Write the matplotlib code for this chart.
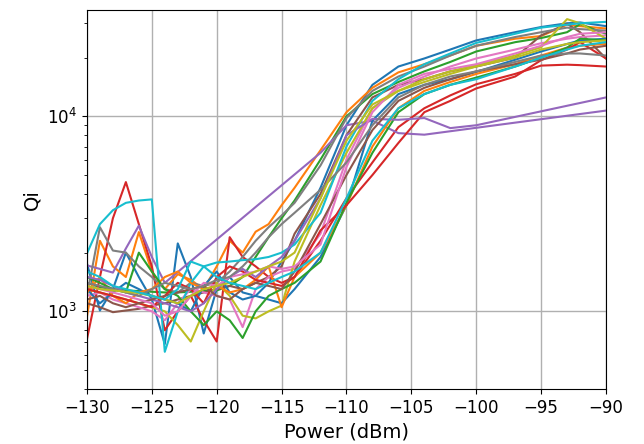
import numpy as np
import matplotlib
matplotlib.use("Agg")
import matplotlib.pyplot as plt

nan = np.nan

# power sweep (dBm); dense at low power, coarser once Qi saturates
power = [-130, -129, -128, -127, -126, -125, -124, -123, -122, -121, -120, -119,
         -118, -117, -116, -115, -114, -112, -110, -108, -106, -104, -102, -100,
         -97, -95, -93, -92, -90]

# Qi per resonator, nan = not measured at that power
qi_r01 = [1760, 1010, 1300, 2000, 1500, 1150, 680, 2230, 1500, 770, 1300, 1500, 1250, 1200, 1400, 1800, 2300,
          4300, 9000, 14500, 18000, 19800, 22000, 24500, 27000, 28700, 30000, 30300, 29000]
qi_r02 = [940, 2300, 1700, 1500, 2550, 1600, 1300, 1550, 1450, 1300, 1700, 2300, 2000, 2560, 2800, 3500, 4300,
          6700, 10500, 14000, 16800, 18500, 20500, 23000, 25000, 25800, 29500, 29000, 28200]
qi_r03 = [1400, 1330, 1300, 1280, 1270, 1260, 1250, 1250, 1260, 1270, 1280, 1350, 1500, 1900, 2400, 3000, 3700,
          6000, 10000, 13000, 15000, 17000, 19000, 21500, 24000, 25200, 27000, 29700, 26500]
qi_r04 = [720, 1500, 3000, 4600, 2800, 1700, 800, 1000, 1200, 900, 700, 2400, 1900, 1700, 1500, 1400, 1500,
          2300, 3800, 5800, 8800, 11000, 12800, 14600, 16500, 18200, 18400, 18300, 18000]
qi_r05 = [1720, 1650, 1580, 2100, 2750, 1900, 1400, nan, nan, nan, nan, nan, nan, nan, nan, nan, nan,
          6500, 9000, 9500, 8200, 8050, nan, nan, nan, nan, nan, nan, 10700]
qi_r06 = [1100, 1050, 990, 1010, 1030, 1070, 1100, 1150, 1200, 1250, 1300, 1350, 1300, 1400, 1500, 1700, 2500,
          4000, 8000, 12500, 14500, 15500, 17000, 18000, 20000, 26000, 29800, 27000, 19800]
qi_r07 = [1200, 1250, 1150, 1100, 1050, 1000, 900, 1100, 1300, 1250, 1200, 1150, 830, 1300, 1500, 1600, 1650,
          2500, 6000, 11000, 14000, 16000, 18000, 19800, 22000, 23700, 25000, 25500, 26000]
qi_r08 = [1200, 2700, 2050, 2000, 1700, 1500, 1300, 1250, 1400, 1350, 1400, 1600, 1900, 2300, 2700, 3100, 3600,
          5600, 9800, 13500, 16000, 18000, 20500, 23000, 25500, 27000, 28500, 28000, 27500]
qi_r09 = [1300, 1250, 1200, 1150, 1100, 1050, 1000, 850, 700, 1000, 1400, 1200, 950, 920, 1000, 1070, 1800,
          3500, 6500, 11000, 13500, 15500, 17000, 18300, 20500, 22600, 31500, 30000, 25000]
qi_r10 = [1980, 2800, 3300, 3600, 3700, 3750, 620, 1000, 1400, 1700, 1780, 1800, 1830, 1850, 1900, 2000, 2200,
          3200, 7000, 12000, 15500, 18500, 21000, 23800, 26500, 28500, 29500, 30000, 30500]
qi_r11 = [1300, 1100, 1250, 1400, 1300, 1200, 1150, 1100, 1000, 1350, 1600, 1250, 1150, 1200, 1150, 1100, 1300,
          1900, 3500, 9500, 13000, 14500, 15500, 16900, 19500, 21500, 23500, 24500, 25000]
qi_r12 = [1250, 1500, 1200, 1100, 1250, 1300, 1500, 1600, 1400, 1300, 1350, 1250, 1300, 1450, 1700, 1050, 1500,
          2000, 3500, 7000, 11000, 13500, 15000, 16500, 18500, 20500, 22500, 23000, 23500]
qi_r13 = [1500, 1400, 1300, 1250, 2000, 1600, 1300, 1200, 1000, 850, 1000, 900, 730, 1000, 1200, 1300, 1400,
          1800, 3600, 6500, 10500, 13000, 14500, 15800, 18000, 20000, 22500, 25000, 24500]
qi_r14 = [1300, 1250, 1200, 1150, 1100, 1050, 1200, 1400, 1300, 1100, 1500, 1700, 1600, 1450, 1400, 1350, 1500,
          2600, 3500, 5000, 7300, 10500, 12000, 13900, 16000, 19400, 22000, 24000, 19800]
qi_r15 = [1500, 1450, 1350, 1250, 1200, 1150, 1100, 1050, 1000, 1100, 1300, 1500, 1650, 1500, 1700, 1900, 2300,
          3800, 8000, 9700, 9600, 9800, 8700, 9000, nan, nan, nan, nan, 12500]
qi_r16 = [1150, 1200, 1100, 1050, 1100, 1150, 1200, 1250, 1300, 1350, 1200, 1150, 1300, 1400, 1350, 1300, 1600,
          2800, 5000, 8500, 12000, 14000, 15500, 17000, 18500, 19500, 21000, 22000, 23000]
qi_r17 = [1350, 1300, 1250, 1200, 1150, 1100, 950, 1000, 1200, 1400, 1350, 1500, 1550, 1600, 1700, 1650, 1700,
          2200, 5500, 10500, 14500, 16500, 17500, 18500, 21000, 23000, 25500, 26500, 27000]
qi_r18 = [1400, 1350, 1300, 1250, 1200, 1300, 1400, 1350, 1300, 1350, 1450, 1500, 1700, 2000, 2400, 2800, 3200,
          4200, 5800, 9000, 12500, 14500, 16000, 17000, 19000, 20500, 21000, 21000, 20500]
qi_r19 = [1350, 1300, 1280, 1260, 1240, 1200, 1150, 1100, 1200, 1300, 1350, 1400, 1500, 1600, 1700, 1800, 2000,
          3800, 7500, 11500, 13500, 15000, 16500, 18000, 20000, 22000, 23500, 24000, 24500]
qi_r20 = [1600, 1500, 1350, 1300, 1250, 1200, 1150, 1300, 1800, 1700, 1500, 1400, 1350, 1300, 1400, 1500, 1600,
          2000, 3800, 7500, 11000, 13000, 14500, 15500, 18000, 20000, 22000, 23000, 24000]

resonators = [qi_r01, qi_r02, qi_r03, qi_r04, qi_r05, qi_r06, qi_r07, qi_r08, qi_r09, qi_r10,
              qi_r11, qi_r12, qi_r13, qi_r14, qi_r15, qi_r16, qi_r17, qi_r18, qi_r19, qi_r20]

fig = plt.figure(figsize=(6.44, 4.44), dpi=100)
ax = fig.add_axes([0.135, 0.124, 0.806, 0.853])

p = np.array(power, dtype=float)
for qi in resonators:
    q = np.array(qi, dtype=float)
    ok = np.isfinite(q)
    ax.plot(p[ok], q[ok], lw=1.5)

ax.set_yscale("log")
ax.set_xlim(-130, -90)
ax.set_ylim(400, 35000)
ax.set_xticks(np.arange(-130, -89, 5))
ax.grid(True, color="#b0b0b0", lw=1)
ax.tick_params(labelsize=12)
ax.set_xlabel("Power (dBm)", fontsize=14)
ax.set_ylabel("Qi", fontsize=14)

fig.savefig("out.png", dpi=100)
